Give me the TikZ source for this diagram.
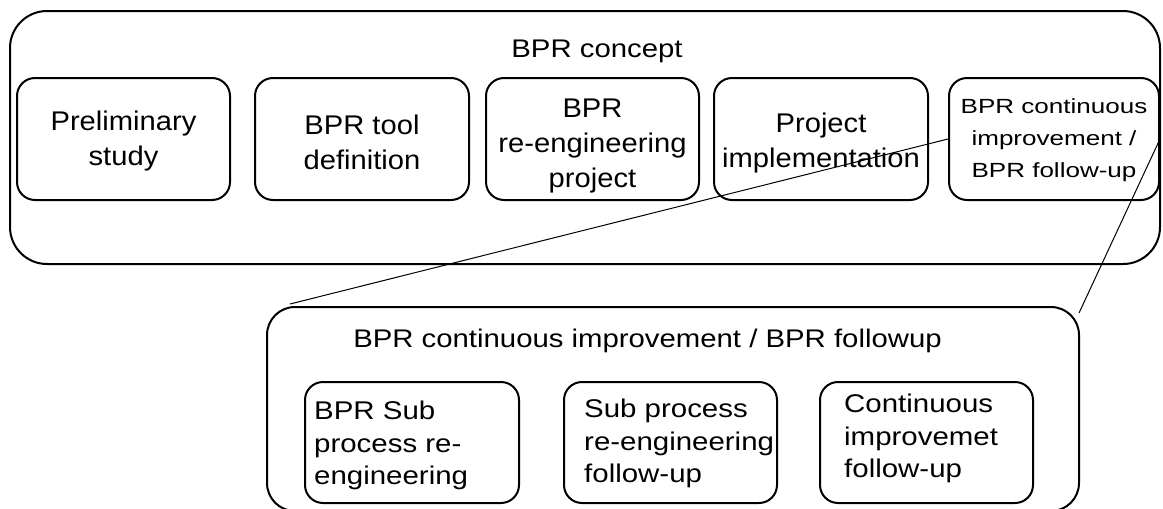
\documentclass[tikz,border=0pt]{standalone}
\usepackage{fontspec}
\setmainfont{Liberation Sans}
\newfontfamily\rowfont[FakeStretch=1.08]{Liberation Sans}
\newfontfamily\widefont[FakeStretch=1.15]{Liberation Sans}
\newfontfamily\tightfont[FakeStretch=1.27]{Liberation Sans}

\tikzset{
  frame/.style={draw, line width=2pt, rounded corners=#1},
  stagebox/.style={draw, line width=2pt, rounded corners=18pt,
    minimum width=213pt, inner sep=0pt},
  label/.style={inner sep=0pt, text depth=0pt},
  rowtext/.style={label, align=center, font=\rowfont\fontsize{27}{35}\selectfont},
  subtext/.style={label, align=left, anchor=west, font=\widefont\fontsize{25.6}{32.5}\selectfont},
  titletext/.style={inner sep=0pt, anchor=base, font=\widefont\fontsize{25.5}{30}\selectfont},
  link/.style={line width=1pt},
}

\begin{document}
\begin{tikzpicture}[x=1pt, y=-1pt]
  \useasboundingbox (0,0) rectangle (1163,509);

  % outer group: the BPR concept
  \node[frame=37pt, minimum width=1150pt, minimum height=253pt, inner sep=0pt] (concept) at (585,137.5) {};
  \node[titletext] (conceptTitle) at (597,57) {BPR concept};

  % the five stages
  \node[stagebox, minimum height=122pt] (b1) at (123.5,139) {};
  \node[stagebox, minimum height=122pt, minimum width=214pt] (b2) at (362,139) {};
  \node[stagebox, minimum height=122pt] (b3) at (592.5,139) {};
  \node[stagebox, minimum height=122pt, minimum width=214pt] (b4) at (821,139) {};
  \node[stagebox, minimum height=122pt, minimum width=210pt] (b5) at (1054,139) {};

  \node[rowtext] (t1) at (123.5,138) {Preliminary\\study};
  \node[rowtext] (t2) at (362,142) {BPR tool\\definition};
  \node[rowtext] (t3) at (592.5,143) {BPR\\re-engineering\\project};
  \node[rowtext] (t4) at (821,140) {Project\\implementation};
  \node[label, align=center, font=\tightfont\fontsize{20.5}{31.7}\selectfont] (t5) at (1054,138)
    {BPR continuous\\improvement /\\BPR follow-up};

  % detail group: continuous improvement
  \node[frame=28pt, minimum width=812pt, minimum height=204pt, inner sep=0pt] (follow) at (673,409) {};
  \node[titletext] (followTitle) at (647.5,347) {BPR continuous improvement / BPR followup};

  \node[stagebox, minimum height=121pt, minimum width=214pt] (s1) at (412,442.5) {};
  \node[stagebox, minimum height=121pt] (s2) at (670.5,442.5) {};
  \node[stagebox, minimum height=121pt] (s3) at (926.5,442.5) {};

  \node[subtext] (u1) at (314,443) {BPR Sub\\process re-\\engineering};
  \node[subtext] (u2) at (584,441) {Sub process\\re-engineering\\follow-up};
  \node[subtext] (u3) at (844,436) {Continuous\\improvemet\\follow-up};

  % zoom lines from the last stage to its detail group
  \coordinate (zl) at (290,304);
  \coordinate (zr) at (1079,313);
  \draw[link] (b5.west) -- (zl);
  \draw[link] (b5.east) -- (zr);
\end{tikzpicture}
\end{document}
